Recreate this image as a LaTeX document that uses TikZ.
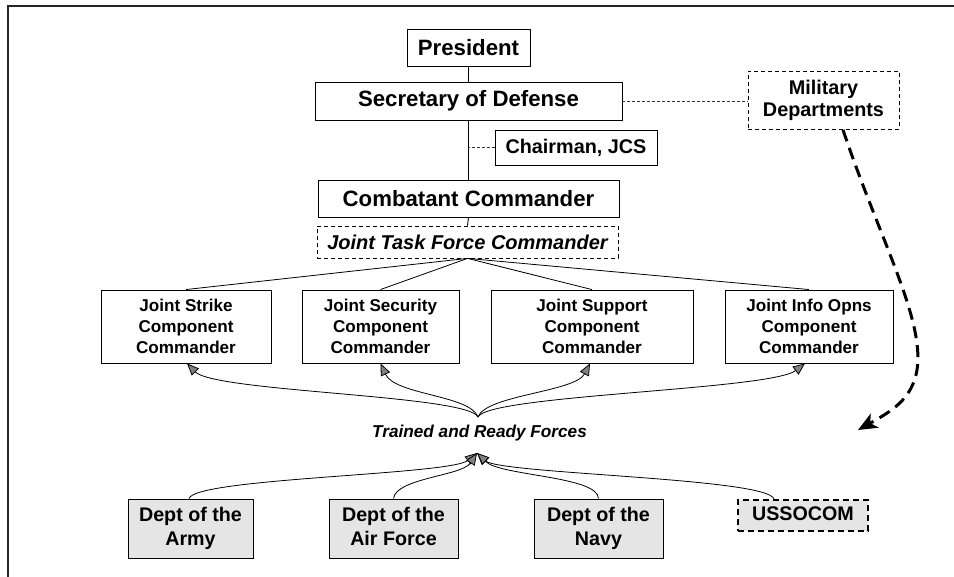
\documentclass[tikz,border=0pt]{standalone}
\usepackage{fontspec}
\setmainfont{Liberation Sans}
\usetikzlibrary{arrows.meta}
\begin{document}
\begin{tikzpicture}[x=1pt,y=-1pt,
  box/.style={draw=black, line width=0.9pt, fill=white, inner sep=0pt, align=center, font=\bfseries\fontsize{22.2}{24}\selectfont},
  compbox/.style={box, minimum height=73pt, font=\bfseries\fontsize{17.1}{21}\selectfont},
  deptbox/.style={box, fill=gray!20, minimum width=127pt, minimum height=59pt, font=\bfseries\fontsize{19.7}{23.3}\selectfont,
    execute at end node={\vphantom{y}}},
  thindash/.style={line width=0.7pt, black!80, dash pattern=on 3pt off 2pt},
  link/.style={line width=0.9pt},
  feed/.style={line width=0.8pt, -{Triangle[length=12pt,width=10pt,fill=gray]}},
]
\useasboundingbox (0,0) rectangle (954,577);
\draw[line width=2pt, black!85] (7.5,577) -- (7.5,6.3) -- (954,6.3);

% top chain
\node[box, minimum width=123pt, minimum height=37pt] (pres) at (468.5,47.5) {President};
\node[box, minimum width=307pt, minimum height=38pt] (secdef) at (468.5,101) {Secretary of Defense};
\node[box, minimum width=162pt, minimum height=35pt, font=\bfseries\fontsize{19.8}{22}\selectfont] (cjcs) at (576,147.5) {Chairman, JCS};
\node[box, minimum width=301pt, minimum height=37pt] (cocom) at (468.5,198.5) {Combatant Commander};
\node[box, minimum width=301pt, minimum height=32pt, dash pattern=on 4pt off 3pt, line width=0.8pt,
      font=\bfseries\itshape\fontsize{20}{22}\selectfont] (jtf) at (467.5,242) {Joint Task Force Commander};
\node[box, minimum width=151pt, minimum height=58pt, dash pattern=on 4pt off 3pt, line width=0.8pt,
      font=\bfseries\fontsize{19.8}{22.7}\selectfont] (mil) at (823.5,100.5) {Military\\Departments};

% components
\node[compbox, minimum width=170pt] (strike) at (186,326.5) {Joint Strike\\Component\\Commander};
\node[compbox, minimum width=157pt] (secur) at (380.5,326.5) {Joint Security\\Component\\Commander};
\node[compbox, minimum width=202pt] (supp) at (592,326.5) {Joint Support\\Component\\Commander};
\node[compbox, minimum width=168pt] (info) at (809,326.5) {Joint Info Opns\\Component\\Commander};

% trained and ready forces
\node[inner sep=0pt, font=\bfseries\itshape\fontsize{17.2}{19}\selectfont] (trf) at (479.5,433) {Trained and Ready Forces};
\coordinate (trtop) at (478,417);
\coordinate (trbot) at (477,453);

% departments
\node[deptbox, minimum width=125pt] (army) at (190.5,528.5) {Dept of the\\Army};
\node[deptbox, minimum width=129pt] (af) at (393.5,528.5) {Dept of the\\Air Force};
\node[deptbox, minimum width=129pt] (navy) at (598.5,528.5) {Dept of the\\Navy};
\node[deptbox, minimum width=130pt, minimum height=31pt, line width=1.6pt, dash pattern=on 6pt off 4pt] (socom) at (803,515.5) {USSOCOM};

% command lines
\draw[link] (pres.south) -- (secdef.north);
\draw[link] (secdef.south) -- (cocom.north);
\draw[link] (cocom.south) -- (jtf.north);
\draw[thindash] (cjcs.west) -- (cjcs.west -| secdef.south);
\draw[thindash] (secdef.east) -- (secdef.east -| mil.west);
\foreach \c in {strike,secur,supp,info}
  \draw[line width=0.8pt] (jtf.south) -- (\c.north);

% forces to components
\draw[feed] (trtop) .. controls (468,395) and (215,392) .. ([xshift=1pt]strike.south);
\draw[feed] (trtop) .. controls (470,395) and (395,395) .. (secur.south);
\draw[feed] (trtop) .. controls (486,395) and (575,392) .. ([xshift=-2pt]supp.south);
\draw[feed] (trtop) .. controls (488,395) and (770,390) .. ([xshift=-4pt]info.south);

% departments to forces
\draw[feed] ([xshift=-1.5pt]army.north) .. controls (195,478) and (450,475) .. (trbot);
\draw[feed] (af.north) .. controls (396,478) and (462,476) .. (trbot);
\draw[feed] (navy.north) .. controls (598,476) and (500,476) .. (trbot);
\draw[feed] ([xshift=-29pt]socom.north) .. controls (770,478) and (500,474) .. (trbot);

% military departments to forces
\coordinate (mdend) at (858,430);
\draw[line width=3pt, dash pattern=on 12pt off 7pt, -{Stealth[length=19pt,width=16pt,inset=5pt]}]
  ([xshift=19.5pt]mil.south) .. controls (880,240) and (925,320) .. (917,370)
  .. controls (912,400) and (890,412) .. (mdend);
\end{tikzpicture}
\end{document}
